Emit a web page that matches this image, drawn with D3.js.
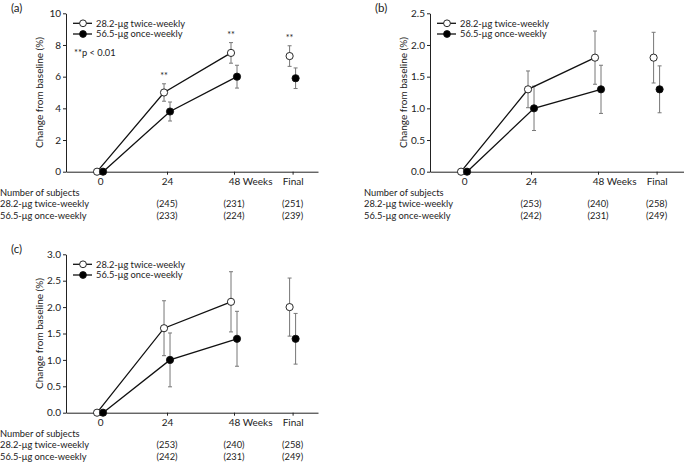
<!DOCTYPE html>
<html><head><meta charset="utf-8">
<script src="https://cdn.jsdelivr.net/npm/d3@7"></script>
<style>
body{margin:0;background:#fff;}
svg{display:block;}
text{font-family:Lato, "Open Sans", sans-serif;fill:#222;}
</style></head>
<body>
<svg id="chart" width="684" height="462"></svg>
<script>
// ---- data ----
const categories = ["0", "24", "48", "Final"];
const weeks = [0, 24, 48, null]; // null = Final (unconnected)
const seriesNames = ["28.2-\u03bcg twice-weekly", "56.5-\u03bcg once-weekly"];

const aTwice = [0, 5.0, 7.5, 7.3];
const aTwiceErr = [0, 0.55, 0.65, 0.65];
const aOnce = [0, 3.8, 6.0, 5.9];
const aOnceErr = [0, 0.6, 0.72, 0.65];
const aSig = ["", "**", "**", "**"];
const aN1 = ["(245)", "(231)", "(251)"];
const aN2 = ["(233)", "(224)", "(239)"];
const aTicks = [0, 2, 4, 6, 8, 10];

const bTwice = [0, 1.3, 1.8, 1.8];
const bTwiceErr = [0, 0.29, 0.42, 0.4];
const bOnce = [0, 1.0, 1.3, 1.3];
const bOnceErr = [0, 0.35, 0.38, 0.37];
const bN1 = ["(253)", "(240)", "(258)"];
const bN2 = ["(242)", "(231)", "(249)"];
const bTicks = [0, 0.5, 1.0, 1.5, 2.0, 2.5];

const cTwice = [0, 1.6, 2.1, 2.0];
const cTwiceErr = [0, 0.52, 0.57, 0.55];
const cOnce = [0, 1.0, 1.4, 1.4];
const cOnceErr = [0, 0.51, 0.52, 0.48];
const cN1 = ["(253)", "(240)", "(258)"];
const cN2 = ["(242)", "(231)", "(249)"];
const cTicks = [0, 0.5, 1.0, 1.5, 2.0, 2.5, 3.0];

// ---- layout ----
const FINAL_POS = 69; // x-position of "Final" in week units
const svg = d3.select("#chart");

const panels = [
  {label:"(a)", ox:0, oy:0, xEnd:318, ymax:10, ticks:aTicks, fmt:d3.format("d"),
   s1:aTwice, e1:aTwiceErr, s2:aOnce, e2:aOnceErr, sig:aSig, n1:aN1, n2:aN2, note:"**p < 0.01"},
  {label:"(b)", ox:364, oy:0, xEnd:320, ymax:2.5, ticks:bTicks, fmt:d3.format(".1f"),
   s1:bTwice, e1:bTwiceErr, s2:bOnce, e2:bOnceErr, sig:null, n1:bN1, n2:bN2, note:null},
  {label:"(c)", ox:0, oy:241, xEnd:318, ymax:3, ticks:cTicks, fmt:d3.format(".1f"),
   s1:cTwice, e1:cTwiceErr, s2:cOnce, e2:cOnceErr, sig:null, n1:cN1, n2:cN2, note:null}
];

panels.forEach(p => {
  const g = svg.append("g").attr("transform", `translate(${p.ox},${p.oy})`);
  const x = d3.scaleLinear().domain([-12.2, 78.1]).range([66, 318]);
  const xEndDomain = x.invert(p.xEnd);
  const xAxisScale = d3.scaleLinear().domain([-12.2, xEndDomain]).range([66, p.xEnd]);
  const y = d3.scaleLinear().domain([0, p.ymax]).range([171.7, 13.3]);
  const catPos = (i) => x(weeks[i] === null ? FINAL_POS : weeks[i]);

  // panel label
  g.append("text").attr("x", 11).attr("y", 12).attr("font-size", 11.5).text(p.label);

  // y axis
  const ya = g.append("g").attr("transform", "translate(66,0)")
    .call(d3.axisLeft(y).tickValues(p.ticks).tickFormat(p.fmt).tickSize(3).tickSizeOuter(0).tickPadding(2));
  ya.selectAll("text").attr("font-size", 10).attr("font-family", "Lato, sans-serif").attr("fill", "#222");
  ya.selectAll("line,path").attr("stroke", "#222");

  // x axis
  const tickVals = categories.map((c, i) => weeks[i] === null ? FINAL_POS : weeks[i]);
  const xa = g.append("g").attr("transform", "translate(0,171.7)")
    .call(d3.axisBottom(xAxisScale).tickValues(tickVals)
      .tickFormat((d, i) => categories[i] === "48" ? "48 Weeks" : categories[i])
      .tickSize(3).tickSizeOuter(0).tickPadding(3));
  xa.selectAll("text").attr("font-size", 10).attr("font-family", "Lato, sans-serif").attr("fill", "#222");
  xa.selectAll("line,path").attr("stroke", "#222");
  xa.selectAll(".tick text").filter((d, i) => categories[i] === "48").each(function() {
    const t = d3.select(this);
    t.text("48");
    const w = this.getComputedTextLength();
    t.text("48 Weeks").attr("text-anchor", "start").attr("x", -w / 2);
  });

  // y axis title
  g.append("text").attr("transform", `translate(43,${(13.3 + 171.7) / 2}) rotate(-90)`)
    .attr("text-anchor", "middle").attr("font-size", 10).text("Change from baseline (%)");

  const series = [
    {vals:p.s1, err:p.e1, off:-3, fill:"#fff"},
    {vals:p.s2, err:p.e2, off:3, fill:"#000"}
  ];
  // error bars
  series.forEach(s => {
    s.vals.forEach((v, i) => {
      if (!s.err[i]) return;
      const cx = catPos(i) + s.off;
      const eg = g.append("g").attr("stroke", "#777").attr("stroke-width", 1);
      eg.append("line").attr("x1", cx).attr("x2", cx).attr("y1", y(v - s.err[i])).attr("y2", y(v + s.err[i]));
      [v - s.err[i], v + s.err[i]].forEach(e => eg.append("line")
        .attr("x1", cx - 2).attr("x2", cx + 2).attr("y1", y(e)).attr("y2", y(e)));
    });
  });
  // lines
  series.forEach(s => {
    const pts = s.vals.map((v, i) => ({v, i})).filter(d => weeks[d.i] !== null);
    g.append("path").datum(pts)
      .attr("d", d3.line().x(d => catPos(d.i) + s.off).y(d => y(d.v)))
      .attr("fill", "none").attr("stroke", "#111").attr("stroke-width", 1.3);
  });
  // markers
  series.forEach(s => {
    g.selectAll(null).data(s.vals).enter().append("circle")
      .attr("cx", (d, i) => catPos(i) + s.off).attr("cy", d => y(d))
      .attr("r", 3.6).attr("fill", s.fill).attr("stroke", "#111").attr("stroke-width", 0.9);
  });
  // significance
  if (p.sig) {
    p.sig.forEach((t, i) => {
      if (!t) return;
      g.append("text").attr("x", catPos(i) - 3).attr("y", y(p.s1[i] + p.e1[i]) - 5)
        .attr("text-anchor", "middle").attr("font-size", 9).text(t);
    });
  }
  // legend
  const leg = g.append("g");
  [0, 1].forEach(k => {
    const ly = 23.3 + k * 10.7;
    leg.append("line").attr("x1", 73).attr("x2", 92).attr("y1", ly).attr("y2", ly).attr("stroke", "#111").attr("stroke-width", 1.3);
    leg.append("circle").attr("cx", 83).attr("cy", ly).attr("r", 3.4).attr("fill", k === 0 ? "#fff" : "#000").attr("stroke", "#111").attr("stroke-width", 0.9);
    leg.append("text").attr("x", 96).attr("y", ly + 3.3).attr("font-size", 9.3).text(seriesNames[k]);
  });
  if (p.note) {
    g.append("text").attr("x", 74).attr("y", 55.5).attr("font-size", 9.3).text(p.note);
  }
  // subject table
  g.append("text").attr("x", 0).attr("y", 196).attr("font-size", 9.3).text("Number of subjects");
  g.append("text").attr("x", 0).attr("y", 207.3).attr("font-size", 9.3).text(seriesNames[0]);
  g.append("text").attr("x", 0).attr("y", 218.6).attr("font-size", 9.3).text(seriesNames[1]);
  [p.n1, p.n2].forEach((arr, r) => {
    arr.forEach((t, j) => {
      g.append("text").attr("x", catPos(j + 1)).attr("y", 207.3 + r * 11.3)
        .attr("text-anchor", "middle").attr("font-size", 9.3).text(t);
    });
  });
});
</script>
</body></html>
